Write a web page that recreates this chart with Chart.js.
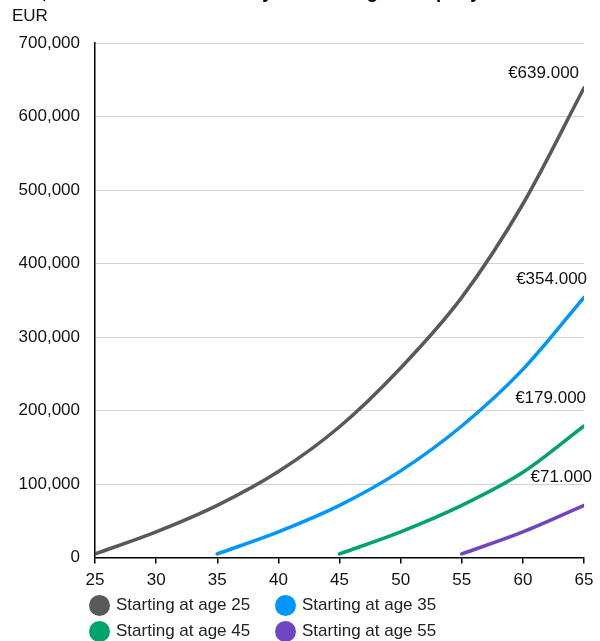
<!DOCTYPE html>
<html>
<head>
<meta charset="utf-8">
<script src="https://cdn.jsdelivr.net/npm/chart.js@4.4.1/dist/chart.umd.min.js"></script>
<style>
html,body{margin:0;padding:0;background:#fff;width:600px;height:641px;overflow:hidden;position:relative}
#wrap{position:absolute;left:0;top:-20px;width:600px;height:661px}
#legend{position:absolute;left:0;top:0;width:600px;height:641px;pointer-events:none;font-family:"Liberation Sans",Arial,sans-serif;font-size:17px;color:#222}
.item{position:absolute;display:flex;align-items:center;height:26px;white-space:nowrap}
.dot{width:21px;height:21px;border-radius:50%;margin-right:6.5px;flex:none}
</style>
</head>
<body>
<div id="wrap"><canvas id="c"></canvas></div>
<div id="legend"></div>
<script>
// ---- data ----
const TITLE = 'Pot, saved until retirement by the start age: €5k per year in euros';
const UNIT = 'EUR';
const ages = [25, 30, 35, 40, 45, 50, 55, 60, 65];
const seriesLabels = ['Starting at age 25', 'Starting at age 35', 'Starting at age 45', 'Starting at age 55'];
const startAge25 = [5000, 35000, 71000, 117000, 178000, 258000, 354000, 481000, 639000];
const startAge35 = [5000, 35000, 71000, 118000, 179000, 256000, 354000];
const startAge45 = [5000, 35000, 71000, 116000, 179000];
const startAge55 = [5000, 35000, 71000];
const endLabels = ['€639.000', '€354.000', '€179.000', '€71.000'];
const yTicksMax = 700000;
const yStep = 100000;

// ---- styles ----
const FONT = '"Liberation Sans", Arial, Helvetica, sans-serif';
const colors = ['#58595b', '#0096ff', '#00a36c', '#7045c2'];
const labelShift = [[-5, -14.5], [3, -18], [2, -28], [8, -28.5]];
const legendPos = [[88.5, 592], [274.5, 592], [88.5, 618], [274.5, 618]];

const allSeries = [startAge25, startAge35, startAge45, startAge55];
function toPoints(vals) {
  const offset = ages.length - vals.length;
  return vals.map((v, i) => ({x: ages[offset + i], y: v}));
}

const endLabelPlugin = {
  id: 'endLabels',
  afterDatasetsDraw(chart) {
    const {ctx, scales: {x, y}} = chart;
    ctx.save();
    ctx.font = '17px ' + FONT;
    ctx.fillStyle = '#111';
    ctx.textAlign = 'right';
    ctx.textBaseline = 'middle';
    chart.data.datasets.forEach((ds, i) => {
      const last = ds.data[ds.data.length - 1];
      ctx.fillText(endLabels[i], x.getPixelForValue(last.x) + labelShift[i][0], y.getPixelForValue(last.y) + labelShift[i][1]);
    });
    ctx.restore();
  }
};

const chart = new Chart(document.getElementById('c'), {
  type: 'line',
  data: {
    datasets: allSeries.map((vals, i) => ({
      label: seriesLabels[i],
      data: toPoints(vals),
      borderColor: colors[i],
      backgroundColor: colors[i],
      borderWidth: 3.5,
      pointRadius: 0,
      fill: false,
      cubicInterpolationMode: 'monotone',
      borderCapStyle: 'round'
    }))
  },
  options: {
    responsive: true,
    maintainAspectRatio: false,
    animation: false,
    layout: {padding: {left: 12, right: 14, top: 0, bottom: 44}},
    plugins: {
      legend: {display: false},
      tooltip: {enabled: false},
      title: {display: true, text: TITLE, color: '#000', font: {size: 20, weight: 'bold', family: FONT}, padding: {top: 0, bottom: 0}},
      subtitle: {display: true, text: UNIT, align: 'start', color: '#111', font: {size: 17, family: FONT}, padding: {top: 2.3, bottom: 16.3}}
    },
    scales: {
      x: {
        type: 'linear', min: ages[0], max: ages[ages.length - 1],
        ticks: {stepSize: 5, color: '#111', font: {size: 17, family: FONT}, padding: 6.5},
        grid: {drawOnChartArea: false, drawTicks: true, tickLength: 6, color: '#000', lineWidth: 1.5},
        border: {color: '#000', width: 1.5}
      },
      y: {
        min: 0, max: yTicksMax,
        ticks: {stepSize: yStep, color: '#111', font: {size: 17, family: FONT}, padding: 15,
          callback: v => v.toLocaleString('en-US')},
        grid: {drawTicks: false, color: '#d2d2d2', lineWidth: 1},
        border: {color: '#000', width: 1.5},
        afterFit(s) { s.width = 83; }
      }
    }
  },
  plugins: [endLabelPlugin]
});

// HTML legend built from the chart's datasets
const lg = document.getElementById('legend');
chart.data.datasets.forEach((ds, i) => {
  const it = document.createElement('div');
  it.className = 'item';
  it.style.left = legendPos[i][0] + 'px';
  it.style.top = legendPos[i][1] + 'px';
  const dot = document.createElement('span');
  dot.className = 'dot';
  dot.style.background = ds.borderColor;
  const tx = document.createElement('span');
  tx.textContent = ds.label;
  it.appendChild(dot); it.appendChild(tx);
  lg.appendChild(it);
});
</script>
</body>
</html>
